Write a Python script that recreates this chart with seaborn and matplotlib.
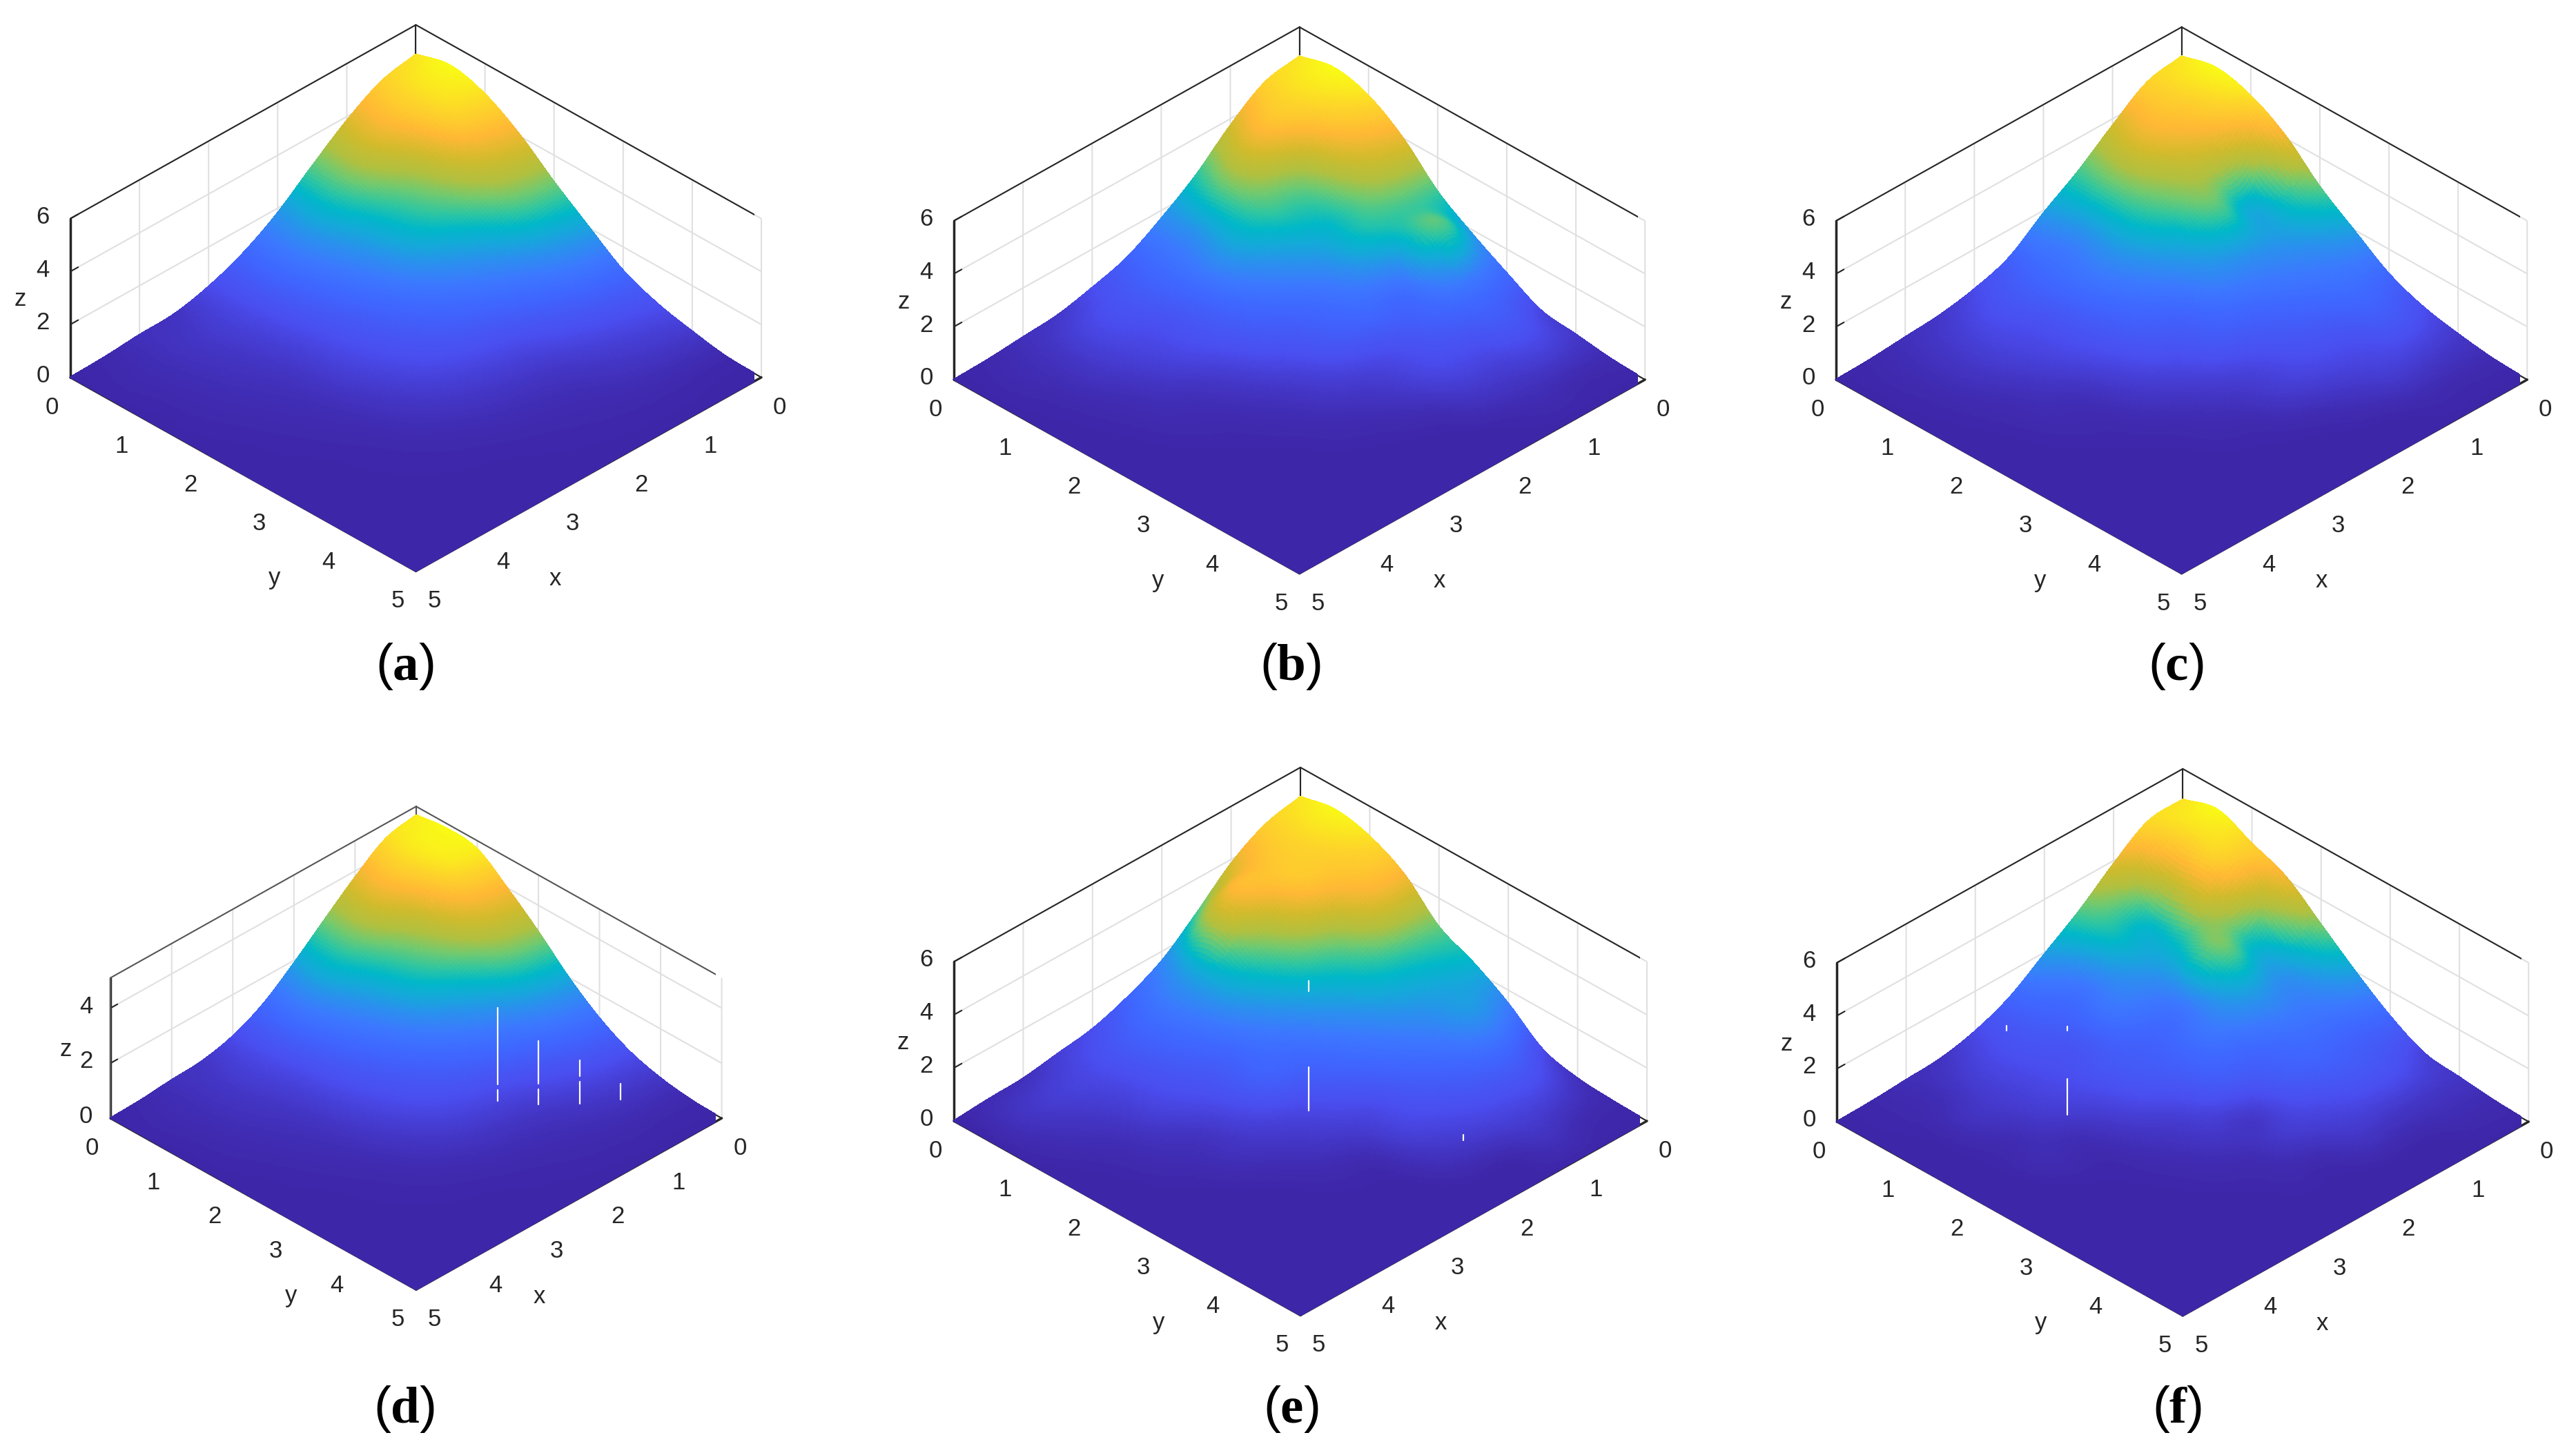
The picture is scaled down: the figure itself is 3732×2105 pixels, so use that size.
import numpy as np
import matplotlib
matplotlib.use("Agg")
import matplotlib.pyplot as plt
from matplotlib.colors import LinearSegmentedColormap
import seaborn as sns
from mpl_toolkits.mplot3d import proj3d

sns.set_theme(style="white")
plt.rcParams["font.family"] = ["Liberation Sans", "DejaVu Sans"]
plt.rcParams["mathtext.fontset"] = "custom"
plt.rcParams["mathtext.bf"] = "Liberation Serif:bold"
plt.rcParams["mathtext.rm"] = "Liberation Serif"

# grid: rows x = 0..5, columns y = 0..5, step 0.5
X_VALUES = [0, .5, 1, 1.5, 2, 2.5, 3, 3.5, 4, 4.5, 5]
Y_VALUES = [0, .5, 1, 1.5, 2, 2.5, 3, 3.5, 4, 4.5, 5]

Z_A = [
    [4.89, 5.20, 4.85, 4.06, 3.00, 2.04, 1.12, .59, .28, .05, .01],
    [4.60, 4.75, 4.55, 3.70, 2.75, 1.75, .98, .48, .23, .05, .01],
    [3.85, 3.95, 3.30, 2.80, 2.05, 1.30, .72, .36, .17, .05, .01],
    [2.87, 2.85, 2.45, 2.15, 1.50, .95, .50, .23, .10, .04, .01],
    [1.83, 1.90, 1.65, 1.35, 1.02, .72, .40, .18, .07, .03, .01],
    [1.04, 1.08, .95, .80, .65, .50, .30, .14, .05, .02, .005],
    [.51, .52, .48, .42, .38, .28, .18, .08, .03, .01, 0],
    [.20, .28, .25, .20, .16, .12, .07, .04, .02, .01, 0],
    [.15, .16, .14, .11, .08, .05, .03, .02, .01, 0, 0],
    [.05, .07, .06, .05, .03, .02, .01, .01, 0, 0, 0],
    [.01, .02, .01, .01, .01, 0, 0, 0, 0, 0, 0],
]
Z_B = [
    [4.90, 5.20, 4.87, 4.00, 2.72, 1.85, 1.10, .42, .25, .08, .01],
    [4.65, 4.75, 4.30, 3.55, 2.70, 2.80, 1.30, .80, .40, .08, .01],
    [3.75, 4.20, 3.05, 2.55, 2.40, 1.30, 1.00, .60, .30, .10, .01],
    [2.60, 3.05, 2.70, 2.05, 1.50, 1.10, .65, .50, .25, .05, .01],
    [1.70, 1.75, 1.95, 1.45, 1.00, .80, .40, .25, .08, .01, 0],
    [.95, 1.10, 1.05, .90, .70, .42, .25, .10, .03, 0, 0],
    [.55, .70, .60, .55, .35, .20, .10, .05, .01, 0, 0],
    [.25, .45, .40, .30, .15, .08, .04, .01, 0, 0, 0],
    [.15, .20, .20, .12, .08, .04, .01, 0, 0, 0, 0],
    [.05, .08, .06, .04, .02, .01, 0, 0, 0, 0, 0],
    [.01, .01, .01, 0, 0, 0, 0, 0, 0, 0, 0],
]
Z_C = [
    [4.90, 5.20, 4.87, 4.10, 2.90, 1.97, 1.08, .55, .27, .08, .01],
    [4.65, 4.55, 4.05, 2.25, 2.05, 1.55, 1.15, .80, .35, .08, .01],
    [3.75, 4.00, 3.45, 2.85, 1.80, 1.30, .90, .55, .35, .08, .01],
    [2.75, 2.85, 2.65, 2.10, 1.60, 1.00, .70, .45, .20, .03, 0],
    [1.90, 1.65, 1.75, 1.45, 1.00, .80, .42, .30, .08, .01, 0],
    [.95, 1.10, 1.10, .95, .75, .45, .25, .10, .03, 0, 0],
    [.50, .70, .60, .55, .40, .25, .10, .05, .01, 0, 0],
    [.25, .40, .40, .30, .15, .08, .04, .01, 0, 0, 0],
    [.15, .20, .20, .12, .08, .04, .01, 0, 0, 0, 0],
    [.05, .07, .06, .04, .02, .01, 0, 0, 0, 0, 0],
    [.01, .01, .01, 0, 0, 0, 0, 0, 0, 0, 0],
]
Z_D = [
    [4.79, 4.93, 4.80, 3.98, 3.04, 2.00, 1.15, .55, .22, .05, .01],
    [4.55, 4.70, 4.50, 3.70, 2.75, 1.75, .98, .48, .20, .05, .01],
    [3.77, 3.90, 3.30, 2.80, 2.05, 1.30, .72, .36, .15, .05, .01],
    [2.85, 2.85, 2.45, 2.10, 1.48, .95, .50, .23, .10, .04, .01],
    [1.90, 2.00, 1.68, 1.33, 1.00, .70, .40, .18, .07, .03, .01],
    [1.05, 1.12, .97, .80, .63, .48, .30, .14, .05, .02, .005],
    [.50, .52, .47, .42, .36, .27, .17, .08, .03, .01, 0],
    [.22, .28, .25, .20, .16, .12, .07, .04, .02, .01, 0],
    [.15, .15, .14, .11, .08, .05, .03, .02, .01, 0, 0],
    [.05, .07, .06, .05, .03, .02, .01, .01, 0, 0, 0],
    [.01, .02, .01, .01, .01, 0, 0, 0, 0, 0, 0],
]
Z_E = [
    [4.90, 5.15, 4.87, 4.17, 2.93, 2.30, 1.50, .50, .15, .05, .01],
    [4.60, 4.70, 4.50, 4.05, 2.70, 2.05, 1.85, 1.00, .45, .10, .01],
    [3.85, 4.40, 4.30, 3.00, 2.30, 1.75, 1.30, .85, .45, .20, .02],
    [2.70, 4.10, 3.10, 2.35, 1.70, 1.25, .90, .60, .35, .05, .01],
    [1.65, 2.20, 2.10, 1.60, 1.15, .85, .50, .40, .20, .03, 0],
    [1.00, 1.35, 1.25, 1.00, .95, .50, .30, .10, .03, 0, 0],
    [.55, .85, .80, .65, .50, .30, .15, .05, .01, 0, 0],
    [.35, .50, .45, .40, .20, .15, .05, .01, 0, 0, 0],
    [.15, .35, .25, .15, .10, .04, .01, 0, 0, 0, 0],
    [.10, .20, .12, .05, .02, .01, 0, 0, 0, 0, 0],
    [.01, .01, .01, 0, 0, 0, 0, 0, 0, 0, 0],
]
Z_F = [
    [4.85, 5.20, 4.65, 4.10, 3.05, 2.00, 1.06, .38, .22, .08, .01],
    [4.76, 4.50, 4.40, 2.55, 1.80, 1.45, .95, .65, .25, .08, .01],
    [3.88, 2.50, 2.60, 3.00, 1.95, 1.30, 1.00, .65, .25, .03, 0],
    [2.83, 2.35, 1.75, 1.40, 1.50, 1.00, .80, .45, .25, .03, 0],
    [1.94, 1.30, 1.40, 1.00, 1.00, .85, .30, .30, .08, .01, 0],
    [1.05, .90, .75, .80, .70, .40, .25, .10, .05, .01, 0],
    [.50, .60, .55, .50, .35, .20, .10, .05, .01, 0, 0],
    [.20, .35, .35, .30, .12, .05, .03, .01, 0, 0, 0],
    [.12, .12, .20, .10, .10, .03, .01, 0, 0, 0, 0],
    [.04, .04, .03, .02, .01, 0, 0, 0, 0, 0, 0],
    [.01, .01, .01, 0, 0, 0, 0, 0, 0, 0, 0],
]

# thin white gaps seen in the surfaces: x, y, z from, z to
SLITS_D = [(1.585, 2.915, 0, .4), (1.585, 2.915, .6, 3.39), (1.3, 3.3, 0, .55), (1.3, 3.3, .75, 2.3),
           (.95, 3.63, 0, .8), (.95, 3.63, 1.0, 1.58), (.6, 3.94, .1, .68)]
SLITS_E = [(2.31, 2.43, 0, 1.65), (2.31, 2.43, 4.51, 4.9), (1.57, 3.92, 0, .2)]
SLITS_F = [(3.25, 1.58, 0, 1.37), (3.25, 1.58, 3.2, 3.35), (2.6, .05, 0, .17)]

PARULA = [(0, "#3e26a8"), (.10, "#4a4cee"), (.20, "#3f66ff"), (.27, "#3c78ff"), (.34, "#2a90ee"),
          (.40, "#15a8da"), (.456, "#00b8c8"), (.51, "#30c6a0"), (.57, "#70ca70"), (.635, "#b0c040"),
          (.72, "#d0bb2c"), (.81, "#ffb835"), (.90, "#fdd42a"), (1, "#f9fb15")]
CMAP = LinearSegmentedColormap.from_list("parula_like", PARULA)

LIGHT = "#e0e0e0"
DARK = "#262626"
W, H = 3732, 2105


def refine(table, n=15):
    """Display-only cubic shading between grid nodes (as MATLAB 'shading interp')."""
    z = np.asarray(table, float)
    for axis in (0, 1):
        z = np.moveaxis(z, axis, 0)
        pad = np.vstack([2 * z[0] - z[1], z, 2 * z[-1] - z[-2]])
        rows = []
        for i in range(1, pad.shape[0] - 2):
            p0, p1, p2, p3 = pad[i - 1], pad[i], pad[i + 1], pad[i + 2]
            for t in np.arange(n) / n:
                rows.append(.5 * (2 * p1 + (p2 - p0) * t + (2 * p0 - 5 * p1 + 4 * p2 - p3) * t ** 2
                                  + (3 * p1 - p0 - 3 * p2 + p3) * t ** 3))
        rows.append(z[-1])
        z = np.moveaxis(np.array(rows), 0, axis)
    return np.clip(z, 0, None)


def place(ax, cx, floor_y, half_w):
    M = ax.get_proj()
    xl, yl, _ = proj3d.proj_transform(5, 0, 0, M)
    xr, _, _ = proj3d.proj_transform(0, 5, 0, M)
    vl = ax.viewLim
    size = 2 * half_w * vl.width / (xr - xl)
    left = cx - ((xl + xr) / 2 - vl.x0) / vl.width * size
    bottom = (H - floor_y) - (yl - vl.y0) / vl.height * size
    ax.set_position([left / W, bottom / H, size / W, size * vl.height / vl.width / H])


def panel(fig, table, letter, cx, floor_y, half_w, zmax, zticks, slits, cap_x, cap_y,
          vmax=5.2, grey=False):
    ax = fig.add_axes([0, 0, .3, .3], projection="3d", computed_zorder=False)
    ax.set_proj_type("ortho")
    ax.view_init(elev=34.1, azim=45)
    ax.set_box_aspect((1, 1, .3925))
    ax.set_xlim(0, 5, view_margin=0)
    ax.set_ylim(0, 5, view_margin=0)
    ax.set_zlim(0, zmax, view_margin=0)
    place(ax, cx, floor_y, half_w)
    ax.patch.set_alpha(0)

    zz = refine(table)
    xs = np.linspace(X_VALUES[0], X_VALUES[-1], zz.shape[0])
    ys = np.linspace(Y_VALUES[0], Y_VALUES[-1], zz.shape[1])
    xx, yy = np.meshgrid(xs, ys, indexing="ij")
    surf = ax.plot_surface(xx, yy, zz, cmap=CMAP, vmin=0, vmax=vmax, rstride=1, cstride=1,
                           shade=False, linewidth=0, antialiased=False, zorder=2)
    surf.set_edgecolor("face")
    surf.set_linewidth(.4)
    for sx, sy, z0, z1 in slits:
        ax.plot([sx, sx], [sy, sy], [z0, z1], color="white", lw=.8, zorder=5)

    line = "#555555" if grey else DARK
    for axis in (ax.xaxis, ax.yaxis, ax.zaxis):
        axis.pane.set_facecolor((1, 1, 1, 0))
        axis.pane.set_edgecolor((1, 1, 1, 0))
        info = axis._axinfo
        info["grid"].update(color=LIGHT, linewidth=.75, linestyle="-")
        info["tick"].update(inward_factor=0, outward_factor=.28,
                            linewidth={True: .75, False: .75}, color=DARK)
        info["axisline"].update(color=line, linewidth=.75)
    # box frame, above the light grid and below the surface
    for fx, fy, fz in [([5, 5], [0, 0], [0, zmax]), ([0, 0], [5, 5], [0, zmax]), ([0, 0], [0, 0], [0, zmax]),
                       ([5, 0], [0, 0], [zmax, zmax]), ([0, 0], [0, 5], [zmax, zmax])]:
        ax.plot(fx, fy, fz, color=line, lw=.75, zorder=1)

    ax.set_xticks(range(6))
    ax.set_yticks(range(6))
    ax.set_zticks(zticks)
    ax.set_zticklabels([])
    ax.tick_params(axis="both", labelsize=12.5, colors=DARK, pad=2)
    for t in zticks:
        ax.text(5.2, -.2, t + .06, str(t), fontsize=12.5, color=DARK, ha="center", va="center")
    ax.text(6.12, 4.07, 0, "y", fontsize=12.5, color=DARK, ha="center", va="center")
    ax.text(4.09, 6.11, 0, "x", fontsize=12.5, color=DARK, ha="center", va="center")
    ax.text(5.365, -.365, zmax * .49, "z", fontsize=12.5, color=DARK, ha="center", va="center", rotation=90)
    ax.grid(True)
    fig.text(cap_x / W, 1 - cap_y / H, rf"($\mathbf{{{letter}}}$)", fontsize=27,
             ha="center", va="center", color="black")
    return ax


fig = plt.figure(figsize=(W / 200, H / 200), dpi=200, facecolor="white")
panel(fig, Z_A, "a", 602.5, 546.7, 500.5, 6, [0, 2, 4, 6], [], 586, 966)
panel(fig, Z_B, "b", 1882.6, 550, 500.6, 6, [0, 2, 4, 6], [], 1870, 966)
panel(fig, Z_C, "c", 3160.7, 550, 500.6, 6, [0, 2, 4, 6], [], 3152, 966)
panel(fig, Z_D, "d", 602.9, 1620, 442.7, 5.1, [0, 2, 4], SLITS_D, 586, 2042, vmax=4.95, grey=True)
panel(fig, Z_E, "e", 1884, 1624, 502, 6, [0, 2, 4, 6], SLITS_E, 1870, 2042)
panel(fig, Z_F, "f", 3162.3, 1625, 501, 6, [0, 2, 4, 6], SLITS_F, 3154, 2042)
fig.savefig("out.png", dpi=200, facecolor="white")
